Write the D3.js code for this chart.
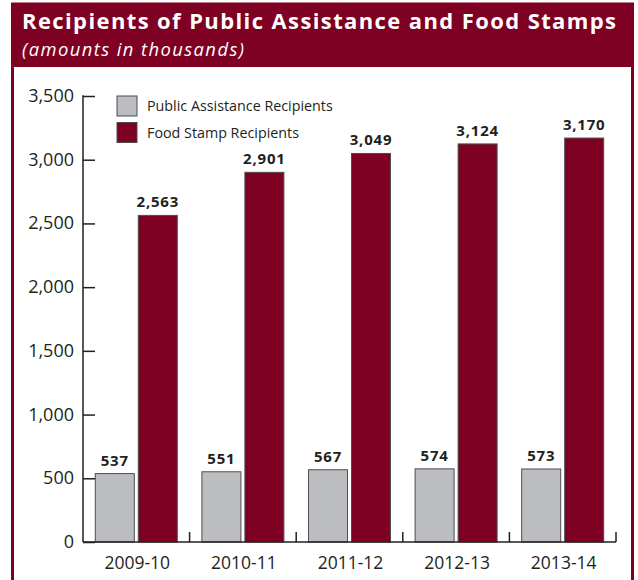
<!DOCTYPE html>
<html>
<head>
<meta charset="utf-8">
<script src="https://cdn.jsdelivr.net/npm/d3@7/dist/d3.min.js"></script>
<style>
  html, body { margin: 0; padding: 0; background: #fff; }
  svg { display: block; font-family: "Open Sans", "Noto Sans", sans-serif; }
</style>
</head>
<body>
<svg id="chart" width="638" height="580"></svg>
<script>
// Fiscal years and recipient counts (thousands)
const years = ["2009-10", "2010-11", "2011-12", "2012-13", "2013-14"];
const publicAssistance = [537, 551, 567, 574, 573];
const foodStamps = [2563, 2901, 3049, 3124, 3170];
const seriesNames = ["Public Assistance Recipients", "Food Stamp Recipients"];
const yTicks = [0, 500, 1000, 1500, 2000, 2500, 3000, 3500];

const maroon = "#7e0022";
const grey = "#bcbdc0";
const ink = "#231f20";

const svg = d3.select("#chart");
const fmt = d3.format(",");

// Outer frame and header band
svg.append("rect")
  .attr("x", 12.5).attr("y", 4).attr("width", 620).attr("height", 600)
  .attr("fill", "#fff").attr("stroke", maroon).attr("stroke-width", 3);
svg.append("rect")
  .attr("x", 11).attr("y", 3).attr("width", 623).attr("height", 64)
  .attr("fill", maroon);

// Stretch a text to a target width through letter spacing
function spreadTo(sel, target) {
  const w = sel.node().getComputedTextLength();
  const n = sel.text().length - 1;
  sel.attr("letter-spacing", (target - w) / n);
}

const title = svg.append("text")
  .attr("x", 22).attr("y", 28.5)
  .attr("font-size", 22).attr("font-weight", 700).attr("fill", "#fff")
  .text("Recipients of Public Assistance and Food Stamps");
spreadTo(title, 594);

const sub = svg.append("text")
  .attr("x", 22).attr("y", 56)
  .attr("font-size", 18.4).attr("font-style", "italic").attr("fill", "#fff")
  .text("(amounts in thousands)");
spreadTo(sub, 222);

// Scales
const x0 = 83, x1 = 616, yBase = 542, yTop = 96;
const x = d3.scaleBand().domain(years).range([x0, x1]).paddingInner(0).paddingOuter(0);
const y = d3.scaleLinear().domain([0, 3500]).range([yBase, yTop]);
const barW = 39, gap = 4;

const g = svg.append("g");

// Y axis: ticks point inward
const yAxis = d3.axisRight(y).tickValues(yTicks).tickSize(12).tickFormat("");
const ya = g.append("g").attr("transform", `translate(${x0},0)`).call(yAxis);
ya.select(".domain").remove();
ya.selectAll(".tick line").attr("stroke", ink).attr("stroke-width", 1.5);
g.append("line")
  .attr("x1", x0).attr("x2", x0).attr("y1", y(3500) - 0.75).attr("y2", yBase)
  .attr("stroke", ink).attr("stroke-width", 1.5);

g.selectAll(".ylab").data(yTicks).join("text")
  .attr("class", "ylab")
  .attr("x", 74).attr("y", d => y(d) + 6)
  .attr("text-anchor", "end").attr("font-size", 18).attr("fill", ink)
  .text(d => fmt(d));

// Bars
const groups = g.selectAll(".year").data(years).join("g")
  .attr("class", "year")
  .attr("transform", d => `translate(${x(d) + x.bandwidth() / 2},0)`);

groups.append("rect")
  .attr("x", -gap / 2 - barW).attr("width", barW)
  .attr("y", (d, i) => y(publicAssistance[i]))
  .attr("height", (d, i) => yBase - y(publicAssistance[i]))
  .attr("fill", grey).attr("stroke", "#4d4d4f").attr("stroke-width", 1);

groups.append("rect")
  .attr("x", gap / 2).attr("width", barW)
  .attr("y", (d, i) => y(foodStamps[i]))
  .attr("height", (d, i) => yBase - y(foodStamps[i]))
  .attr("fill", maroon).attr("stroke", "#4d4d4f").attr("stroke-width", 1);

groups.append("text")
  .attr("x", -gap / 2 - barW / 2)
  .attr("y", (d, i) => y(publicAssistance[i]) - 8)
  .attr("text-anchor", "middle").attr("font-size", 15).attr("font-weight", 700)
  .attr("letter-spacing", 0.8).attr("fill", ink)
  .text((d, i) => fmt(publicAssistance[i]));

groups.append("text")
  .attr("x", gap / 2 + barW / 2)
  .attr("y", (d, i) => y(foodStamps[i]) - 8)
  .attr("text-anchor", "middle").attr("font-size", 15).attr("font-weight", 700)
  .attr("letter-spacing", 0.8).attr("fill", ink)
  .text((d, i) => fmt(foodStamps[i]));

// X axis with upward ticks at category boundaries
g.append("line")
  .attr("x1", x0).attr("x2", x1).attr("y1", yBase).attr("y2", yBase)
  .attr("stroke", ink).attr("stroke-width", 1.5);
g.selectAll(".xtick").data(years.slice(1).concat(["end"])).join("line")
  .attr("class", "xtick")
  .attr("x1", (d, i) => i < years.length - 1 ? x(d) : x1)
  .attr("x2", (d, i) => i < years.length - 1 ? x(d) : x1)
  .attr("y1", yBase).attr("y2", yBase - 10)
  .attr("stroke", ink).attr("stroke-width", 1.5);
g.selectAll(".xlab").data(years).join("text")
  .attr("class", "xlab")
  .attr("x", d => x(d) + x.bandwidth() / 2 + 1)
  .attr("y", 569)
  .attr("text-anchor", "middle").attr("font-size", 17.5).attr("fill", ink)
  .text(d => d);

// Legend
const legend = g.selectAll(".leg").data(seriesNames).join("g")
  .attr("class", "leg")
  .attr("transform", (d, i) => `translate(117,${96 + i * 26.5})`);
legend.append("rect")
  .attr("width", 20).attr("height", 20)
  .attr("fill", (d, i) => i === 0 ? grey : maroon)
  .attr("stroke", "#4d4d4f").attr("stroke-width", 1);
legend.append("text")
  .attr("x", 30).attr("y", 15)
  .attr("font-size", 14.3).attr("fill", ink)
  .text(d => d);
</script>
</body>
</html>
